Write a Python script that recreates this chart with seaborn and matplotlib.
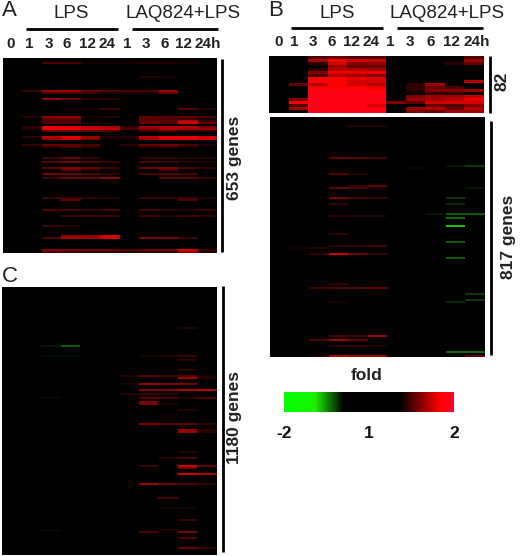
import numpy as np
import matplotlib
matplotlib.use('Agg')
import matplotlib.pyplot as plt
from matplotlib.colors import LinearSegmentedColormap
from matplotlib.lines import Line2D
import seaborn as sns

time_labels = ['0', '1', '3', '6', '12', '24', '1', '3', '6', '12', '24h']
group_labels = ['LPS', 'LAQ824+LPS']
fold_labels = ['-2', '1', '2']

# each panel: bin index of the gene row + the 11 time point values
a_bins = [2, 9, 16, 17, 20, 25, 29, 30, 31, 32, 34, 35, 36, 39, 40, 43, 44, 50, 52, 55, 56, 58, 60, 70, 71, 76, 79, 84, 89, 90, 96, 97]
a_vals = [
    [0, 0, 1.0, 1.0, .8, .8, .8, .85, .85, .8, 0],
    [0, 0, 0, 0, 0, 0, 0, .85, .8, 0, 0],
    [0, .95, 1.25, 1.3, 1.1, 1.05, 1.0, 1.0, 1.3, 0, 0],
    [0, 0, 1.0, 1.0, .9, .8, .8, .8, 1.1, 0, 0],
    [0, 0, 1.3, 1.15, .9, .9, 0, 0, 0, 0, 0],
    [0, 0, 0, .8, .8, .95, 0, 0, 0, 1.05, .85],
    [0, .85, 1.25, 1.25, .8, .85, 0, 1.1, 1.05, 1.1, 1.0],
    [0, 0, 1.05, 1.05, 0, 0, 0, 1.05, 1.0, .9, .8],
    [0, 0, 1.0, 1.0, 0, 0, 0, 1.1, 1.05, 1.4, .9],
    [0, 0, 1.0, 1.0, .8, 0, 0, 1.1, 1.05, 1.5, 1.1],
    [0, .9, 1.6, 1.55, 1.45, 1.35, .95, 1.3, 1.4, 1.4, 1.2],
    [0, .85, 1.6, 1.6, 1.5, 1.45, 1.0, 1.25, 1.4, 1.35, 1.3],
    [0, 0, 1.1, 1.1, 1.0, 1.0, 0, .95, 1.0, .9, .9],
    [0, .9, 1.4, 1.55, 1.3, .85, .85, 1.4, 1.6, 1.6, 1.5],
    [0, 0, 1.3, 1.5, 1.2, .8, .8, 1.3, 1.55, 1.55, 1.5],
    [0, .95, 1.1, 1.1, 1.0, 0, .9, 1.1, 1.15, 1.0, .85],
    [0, 0, .9, 1.0, .9, 0, 0, .9, .95, .85, 0],
    [0, 0, .95, 1.1, .9, 0, 0, .9, .9, .85, .85],
    [0, 0, 1.05, 1.15, 1.05, .95, 0, 1.0, .95, .85, .85],
    [0, 0, 1.05, 1.2, 1.1, .95, 0, 1.1, 1.2, 1.0, .9],
    [0, 0, 0, 1.1, .9, 0, 0, 0, 1.0, 0, 0],
    [0, 0, 1.15, 1.1, 1.0, .9, 0, 1.0, 1.05, 1.0, 0],
    [0, 0, .95, 1.15, 1.1, 1.25, 0, 0, 1.05, 1.05, .9],
    [0, 0, .95, .95, .9, .85, 0, .95, .9, .95, .85],
    [0, 0, 0, 1.1, 0, 0, 0, 0, 0, 1.0, 0],
    [0, 0, 1.0, 1.0, .9, 1.0, 0, 1.0, .9, .85, .95],
    [0, 0, 0, .95, .95, .95, 0, .95, .85, .95, .9],
    [0, 0, .95, .85, 0, 0, 0, 0, 0, 0, 0],
    [0, 0, 0, 1.25, 1.25, 1.5, 0, 0, 0, 0, 0],
    [0, 0, 1.0, 1.35, 1.3, 1.5, 0, 1.2, 1.2, .95, 0],
    [0, 0, 1.2, 1.15, 1.1, 1.1, 1.0, 1.1, 1.1, 1.5, .95],
    [0, 0, 1.0, .95, .9, .9, .85, .9, .9, 1.3, .85],
]

b_top_bins = list(range(19))
b_top_vals = [
    [0, 0, 1.0, 1.1, 1.0, 1.0, 0, 0, 0, 0, 1.0],
    [0, 0, 1.35, 1.6, 1.5, 1.45, 0, 0, 0, 0, 1.3],
    [0, 0, .9, 1.5, 1.2, 1.25, 0, 0, 0, .9, 1.1],
    [0, 0, 0, 1.3, 1.1, 1.1, 0, 0, 0, 0, 0],
    [0, 0, .9, 1.4, 1.4, 1.3, 0, 0, 0, 0, 0],
    [0, 0, 1.2, 1.6, 1.6, 1.6, 0, 0, 0, 0, 0],
    [0, 0, 1.0, 1.4, 1.3, 1.2, 0, 0, 0, 0, 0],
    [0, 0, 1.7, 1.7, 1.6, 1.55, 0, 0, 0, 0, 0],
    [0, 0, 1.7, 1.7, 1.5, 1.5, 0, 0, 0, 0, 1.4],
    [0, 1.1, 1.4, 1.7, 1.5, 1.4, 0, .9, 1.3, 0, 0],
    [0, 0, 1.7, 1.7, 1.7, 1.6, 0, .9, 1.1, 1.0, 0],
    [0, 0, 1.8, 1.8, 1.8, 1.7, 0, .85, 1.2, 1.2, 1.3],
    [0, 0, 1.8, 1.8, 1.8, 1.8, 0, 0, .9, .9, 0],
    [0, 0, 1.8, 1.8, 1.8, 1.8, 0, 1.2, 1.3, 1.3, 1.45],
    [0, 1.2, 1.8, 1.8, 1.8, 1.8, 0, 1.3, 1.3, 1.4, 1.6],
    [0, 1.65, 1.8, 1.8, 1.8, 1.8, 1.2, 1.05, 1.5, 1.5, 1.5],
    [0, 1.0, 1.8, 1.8, 1.8, 1.5, 0, 0, 1.1, 1.0, 1.2],
    [0, 1.35, 1.8, 1.8, 1.8, 1.8, 0, 1.3, 1.4, 1.1, 1.4],
    [0, 0, 1.8, 1.8, 1.8, 1.8, 0, 1.2, 1.1, 1.3, 1.3],
]

b_low_bins = [4, 20, 24, 25, 28, 34, 35, 40, 43, 48, 49, 50, 54, 58, 62, 64, 65, 68, 70, 83, 85, 88, 91, 92, 109, 111, 114, 117, 119]
b_low_vals = [
    [0, 0, 0, 0, .85, .85, 0, 0, 0, 0, 0],
    [0, 0, 0, 1.1, 1.05, 1.0, 0, 0, 0, 0, 0],
    [0, 0, 0, 0, 0, 0, 0, 0, 0, -.66, -.76],
    [0, 0, 0, 0, 0, 0, 0, -.64, 0, 0, 0],
    [0, 0, 0, 1.05, .85, 0, 0, 0, 0, 0, 0],
    [0, 0, 0, 0, .9, 1.05, 0, 0, 0, 0, 0],
    [0, 0, 0, 1.1, 1.0, .85, 0, 0, 0, 0, -.66],
    [0, 0, 0, 1.15, 1.0, .9, 0, 0, 0, -.76, 0],
    [0, 0, 0, .95, 0, 0, 0, 0, 0, -.72, 0],
    [0, 0, 0, 0, 0, 0, 0, 0, -.66, -.85, -.85],
    [0, 0, 0, .9, .85, .85, 0, 0, 0, 0, 0],
    [0, 0, 0, 0, 0, 0, 0, 0, 0, -.9, 0],
    [0, 0, 0, 0, 0, 0, 0, 0, 0, -1.15, 0],
    [0, 0, 0, .9, 0, 0, 0, 0, 0, 0, 0],
    [0, 0, 0, 0, 0, 0, 0, 0, 0, -.85, 0],
    [0, 0, 0, .9, .9, 1.0, 0, 0, 0, 0, 0],
    [0, .8, .85, 0, 0, 0, 0, 0, 0, 0, 0],
    [0, 0, .9, 1.5, 1.1, .9, 0, 0, 0, 0, 0],
    [0, 0, 0, 0, 0, 0, 0, 0, 0, -.85, 0],
    [0, 0, 0, .9, 0, 0, 0, 0, 0, 0, 0],
    [0, 0, .95, 1.05, 1.05, 1.1, 0, 0, 0, 0, 0],
    [0, 0, 0, 0, 0, 0, 0, 0, 0, 0, -.76],
    [0, 0, 0, 0, 0, 0, 0, 0, 0, 0, -.76],
    [0, 0, 0, .8, 0, 0, 0, 0, 0, -.72, 0],
    [0, 0, 0, 1.0, .95, 1.3, 0, 0, 0, 0, 0],
    [0, 0, 1.0, 1.3, 1.1, 0, 0, 0, 0, 0, 0],
    [0, 0, 0, .9, .9, .85, 0, 0, 0, 0, 0],
    [0, 0, 0, 0, 0, 0, 0, 0, 0, -.9, -.9],
    [0, 0, .85, 1.4, 1.3, 1.3, 0, 0, 0, 0, 1.1],
]

c_bins = [20, 29, 34, 36, 41, 44, 45, 48, 51, 53, 55, 57, 58, 61, 64, 68, 71, 72, 82, 85, 89, 90, 93, 98, 105, 110, 116, 121, 122, 125, 130]
c_vals = [
    [0, 0, 0, 0, 0, 0, 0, 0, 0, .85, 0],
    [0, 0, -.66, -.85, 0, 0, 0, 0, 0, 0, 0],
    [0, 0, -.63, -.63, 0, 0, 0, .8, .85, .95, 0],
    [0, 0, 0, 0, 0, 0, 0, 0, 0, .9, 0],
    [0, 0, 0, 0, 0, 0, 0, 0, 0, .9, 0],
    [0, 0, 0, 0, 0, 0, .85, 1.05, .95, 1.0, .8],
    [0, 0, 0, 0, 0, 0, 0, 0, 0, 1.3, .9],
    [0, 0, 0, 0, 0, 0, .8, 1.3, 1.2, 1.15, 0],
    [0, 0, 0, 0, 0, 0, 0, 1.2, 1.2, 1.4, 1.45],
    [0, 0, 0, 0, 0, 0, .85, .95, .9, 0, 0],
    [0, 0, -.63, 0, 0, 0, 0, 1.05, 1.0, .85, 1.0],
    [0, 0, 0, 0, 0, 0, 0, 1.2, 0, 0, 0],
    [0, 0, 0, 0, 0, 0, 0, 1.2, .85, 0, 0],
    [0, 0, 0, 0, 0, 0, 0, 0, 0, .85, 0],
    [0, 0, 0, 0, 0, 0, 0, 0, .8, 0, 0],
    [0, 0, 0, 0, 0, 0, 0, 1.2, 1.05, 1.05, .9],
    [0, 0, 0, 0, 0, 0, 0, 0, 0, 1.3, .9],
    [0, 0, 0, 0, 0, 0, 0, 0, 0, 1.25, .85],
    [0, 0, 0, 0, 0, 0, 0, 0, 0, .85, 0],
    [0, 0, 0, 0, 0, 0, 0, 0, .85, 1.0, 0],
    [0, 0, 0, 0, 0, 0, 0, .95, 0, 1.5, 1.1],
    [0, 0, 0, 0, 0, 0, 0, 0, 0, 1.2, 0],
    [0, 0, 0, 0, 0, 0, 0, 0, 0, 1.5, 1.35],
    [0, 0, 0, 0, 0, 0, 0, 1.3, 1.1, 1.0, .9],
    [0, 0, 0, 0, 0, 0, 0, 0, 1.0, 0, 0],
    [0, 0, 0, 0, 0, 0, 0, 0, .8, .8, 0],
    [0, 0, 0, 0, 0, 0, 0, 0, 0, .95, 0],
    [0, 0, -.63, 0, 0, 0, 0, 0, .85, 0, 0],
    [0, 0, 0, 0, 0, 0, 0, 1.0, 0, 1.2, 0],
    [0, 0, 0, 0, 0, 0, 0, 0, 0, 1.0, 0],
    [0, 0, 0, 0, 0, 0, 0, 0, 0, 1.1, .95],
]

W, H = 520, 556

sns.set_theme(style='white')
plt.rcParams['font.family'] = ['Liberation Sans', 'DejaVu Sans']

cmap = LinearSegmentedColormap.from_list('fold', [
    (0.0, '#00ff00'), (0.18, '#1cf000'), (0.35, '#000000'),
    (0.68, '#000000'), (0.92, '#ff0000'), (1.0, '#ff0030')])


def build_matrix(bins, vals, n_rows):
    m = np.zeros((n_rows, 11))
    m[bins] = vals
    return m


def px_axes(fig, x0, y0, x1, y1):
    return fig.add_axes([x0 / W, 1 - y1 / H, (x1 - x0) / W, (y1 - y0) / H])


def draw_panel(fig, box, bins, vals, n_rows, cax=None):
    ax = px_axes(fig, *box)
    sns.heatmap(build_matrix(bins, vals, n_rows), ax=ax, cmap=cmap, vmin=-2, vmax=2,
                cbar=cax is not None, cbar_ax=cax,
                cbar_kws={'orientation': 'horizontal', 'ticks': [-2, 0, 2]} if cax else None,
                xticklabels=False, yticklabels=False)
    return ax


def time_ticks(ax, box, label_px):
    # labels sit a bit off the column centres in the original
    col_w = (box[2] - box[0]) / 11
    ax.set_xticks([(p - box[0]) / col_w for p in label_px])
    ax.set_xticklabels(time_labels, fontsize=11, rotation=0, fontweight='bold', color='#222222')
    ax.xaxis.tick_top()
    ax.tick_params(axis='x', length=0, pad=5)


def px_line(fig, x0, y0, x1, y1, lw=2.0):
    fig.add_artist(Line2D([x0 / W, x1 / W], [1 - y0 / H, 1 - y1 / H], color='black',
                          lw=lw, solid_capstyle='butt'))


def px_text(fig, x, y, s, size=12, rot=0, ha='center', weight='bold'):
    fig.text(x / W, 1 - y / H, s, fontsize=size, rotation=rot, ha=ha, va='center',
             color='#222222', fontweight=weight)


fig = plt.figure(figsize=(W / 100, H / 100), dpi=100, facecolor='white')

box_a = (3, 58, 217, 253)
box_b1 = (269, 56, 484, 113)
box_b2 = (270, 117, 485, 357)
box_c = (2, 287, 217, 555)

# colour scale comes from panel C's own colorbar
cax = px_axes(fig, 284, 392, 454, 412)

ax_a = draw_panel(fig, box_a, a_bins, a_vals, 98)
ax_b1 = draw_panel(fig, box_b1, b_top_bins, b_top_vals, 19)
ax_b2 = draw_panel(fig, box_b2, b_low_bins, b_low_vals, 120)
ax_c = draw_panel(fig, box_c, c_bins, c_vals, 134, cax=cax)

time_ticks(ax_a, box_a, [11, 29, 49, 67, 87, 107, 127, 146, 165, 184, 208])
time_ticks(ax_b1, box_b1, [279, 294, 313, 332, 352, 371, 390, 410, 431, 452, 477])

cax.set_xticklabels(fold_labels, fontsize=12.5, fontweight='bold', color='#111111')
cax.tick_params(axis='x', length=0, pad=10)
ax_c.collections[0].colorbar.outline.set_visible(False)

# group bars and labels
px_line(fig, 26, 29, 118, 29)
px_line(fig, 132, 29, 218, 29)
px_line(fig, 291, 28, 383, 28)
px_line(fig, 397, 28, 483, 28)
px_text(fig, 71, 13, group_labels[0], size=13.5, weight='normal')
px_text(fig, 183, 13, group_labels[1], size=13.5, weight='normal')
px_text(fig, 337, 13, group_labels[0], size=13.5, weight='normal')
px_text(fig, 447, 13, group_labels[1], size=13.5, weight='normal')

# gene count bars
px_line(fig, 222, 59, 222, 252)
px_line(fig, 490, 56, 490, 113)
px_line(fig, 491, 121, 491, 355)
px_line(fig, 223, 286, 223, 552)
px_text(fig, 235, 158, '653 genes', size=12.5, rot=90)
px_text(fig, 502, 81, '82', size=12.5, rot=90)
px_text(fig, 508, 237, '817 genes', size=12.5, rot=90)
px_text(fig, 235, 418, '1180 genes', size=12.5, rot=90)

px_text(fig, 367, 376, 'fold', size=12.5)

px_text(fig, 2, 11, 'A', size=16, ha='left', weight='normal')
px_text(fig, 268, 11, 'B', size=16, ha='left', weight='normal')
px_text(fig, 2, 276, 'C', size=16, ha='left', weight='normal')

fig.savefig('out.png', dpi=100, facecolor='white')
